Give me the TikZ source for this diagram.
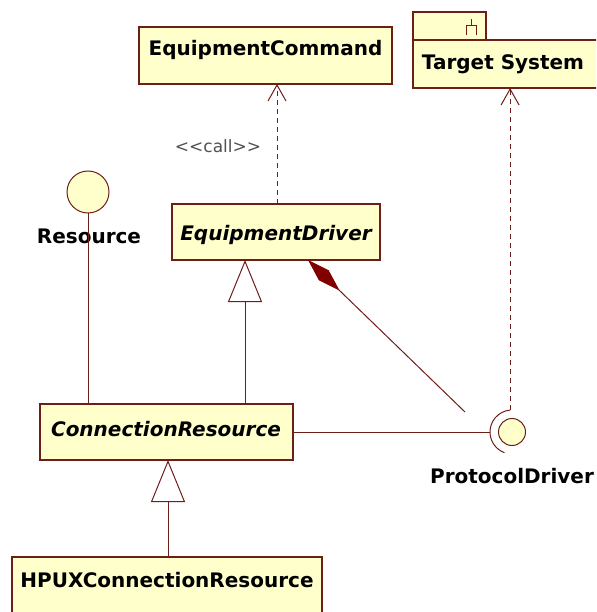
\documentclass[tikz,border=0pt]{standalone}
\usepackage{fontspec}
\setmainfont{DejaVu Sans}
\usetikzlibrary{arrows.meta}
\definecolor{umlfill}{RGB}{255,255,204}
\definecolor{umlline}{RGB}{110,30,25}
\definecolor{umldiam}{RGB}{128,0,0}
\definecolor{stereo}{RGB}{80,80,80}
\begin{document}
\begin{tikzpicture}[x=1pt,y=-1pt,
  classbox/.style={draw=umlline, fill=umlfill, line width=1.3pt, inner sep=0, outer sep=0, anchor=north west, rectangle},
  nm/.style={font=\fontsize{20}{24}\selectfont\bfseries, anchor=base, inner sep=0},
  nmi/.style={font=\fontsize{20}{24}\selectfont\bfseries\itshape, anchor=base, inner sep=0},
  wire/.style={draw=umlline, line width=1pt},
  depline/.style={wire, dash pattern=on 5pt off 4pt, -{Straight Barb[length=16pt,width=18pt,line width=1pt]}},
  genline/.style={wire, -{Triangle[length=42pt,width=34pt,fill=white,line width=1pt]}},
  compline/.style={wire, -{Diamond[length=44pt,width=14pt,fill=umldiam,color=umldiam]}},
  iface/.style={circle, draw=umlline, fill=umlfill, line width=1pt, inner sep=0, outer sep=0}]
\useasboundingbox (0,0) rectangle (596,612);
\clip (0,0) rectangle (596,612);

% EquipmentCommand
\node[classbox, minimum width=253pt, minimum height=57pt] (cmd) at (139,27) {};
\node[nm] (cmdt) at (265.5,56) {EquipmentCommand};

% Target System package
\node[classbox, minimum width=73pt, minimum height=28pt] (tab) at (413,12) {};
\node[classbox, minimum width=190pt, minimum height=48pt] (tgt) at (413,40) {};
\node[nm] (tgtt) at (503,70) {Target System};
\draw[wire] (466,35) -- (466,26) -- (476,26) -- (476,35) (471,26) -- (471,19);

% EquipmentDriver
\node[classbox, minimum width=208pt, minimum height=56pt] (drv) at (172,204) {};
\node[nmi] (drvt) at (276,240) {EquipmentDriver};

% Resource interface
\node[iface, minimum size=42pt] (res) at (88,192) {};
\node[nm] (rest) at (89,243) {Resource};

% ConnectionResource
\node[classbox, minimum width=253pt, minimum height=56pt] (con) at (40,404) {};
\node[nmi] (cont) at (166,436) {ConnectionResource};

% HPUXConnectionResource
\node[classbox, minimum width=310pt, minimum height=70pt] (hpux) at (12,557) {};
\node[nm] (hpuxt) at (167,587) {HPUXConnectionResource};

% ProtocolDriver interface
\node[iface, minimum size=27pt] (pd) at (512,432) {};
\node[nm] (pdt) at (512,483) {ProtocolDriver};
\draw[wire] ([shift={(95:22pt)}]pd.center) arc[start angle=95, end angle=250, radius=22pt];
\coordinate (sockL) at ([shift={(180:22pt)}]pd.center);
\coordinate (sockT) at ([shift={(95:22pt)}]pd.center);

% <<call>> label
\node[font=\fontsize{17}{20}\selectfont, text=stereo, anchor=base, inner sep=0] (call) at (218,153) {{<}{<}call{>}{>}};

% connectors
\coordinate (dx) at (277,0);
\draw[depline] (drv.north -| dx) -- (cmd.south -| dx);
\draw[depline] (sockT) -- (tgt.south -| sockT);

\draw[wire] (res.south) -- (res.south |- con.north);

\coordinate (gx1) at (245,0);
\draw[genline] (con.north -| gx1) -- (drv.south -| gx1);
\coordinate (gx2) at (168,0);
\draw[genline] (hpux.north -| gx2) -- (con.south -| gx2);

\coordinate (cend) at (465,412);
\coordinate (cx) at (308,0);
\draw[compline] (cend) -- (drv.south -| cx);

\draw[wire] (con.east) -- (sockL);
\end{tikzpicture}
\end{document}
